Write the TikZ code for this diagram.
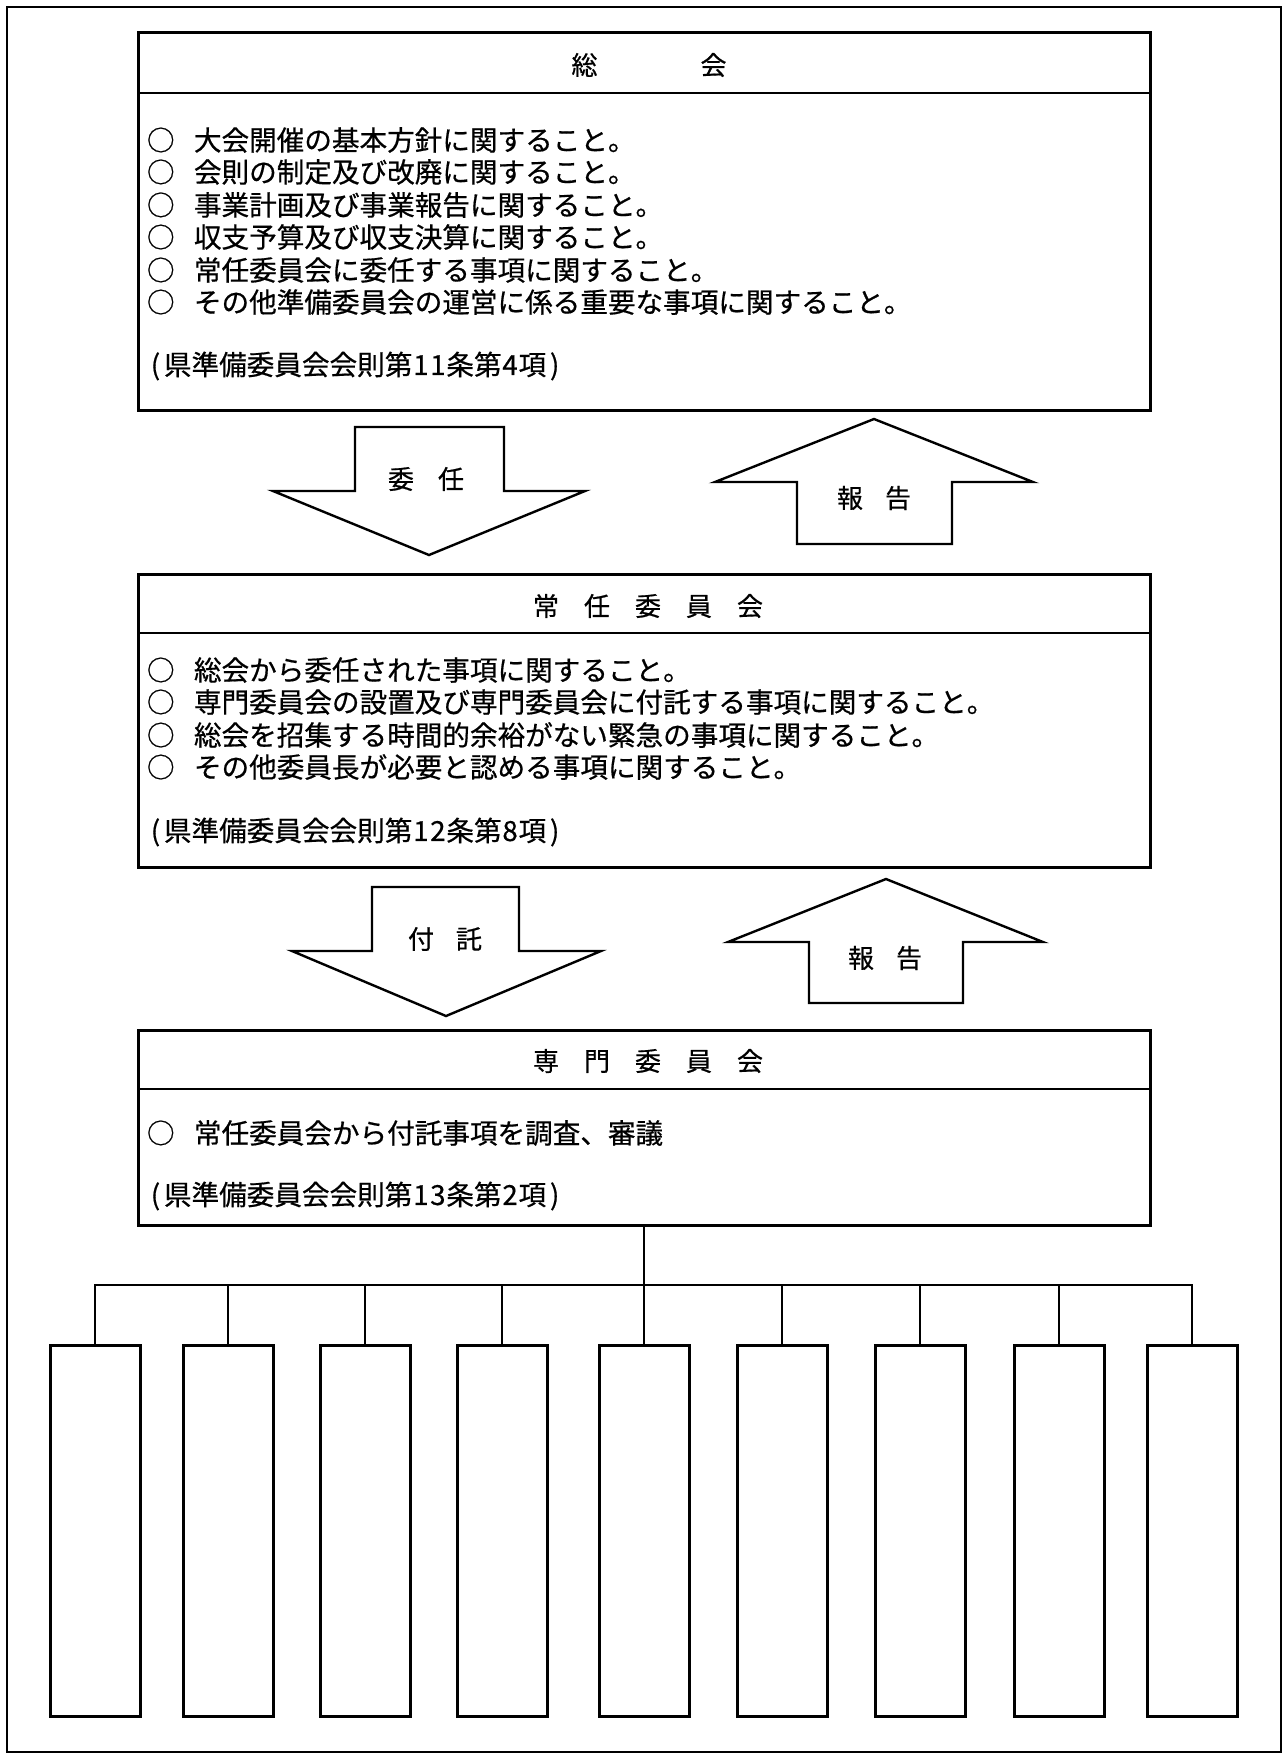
\documentclass[tikz,border=0pt]{standalone}
\usepackage{fontspec}
\setmainfont{Noto Sans CJK JP}[FakeBold=0.6]
\newcommand\hw[1]{\makebox[8.5pt][c]{#1}}
\newcommand\bul{\makebox[23.5pt][l]{○}}
\begin{document}
\begin{tikzpicture}[x=0.5pt,y=-0.5pt,
  every node/.style={inner sep=0pt, outer sep=0pt},
  bigbox/.style={draw, line width=1.5pt, minimum width=506pt, anchor=north west},
  divider/.style={line width=1.3pt},
  txt/.style={anchor=west, font=\fontsize{13.8pt}{16pt}\selectfont},
  ttl/.style={font=\fontsize{13pt}{16pt}\selectfont},
  blockarrow/.style={draw, line width=1.2pt, line join=miter},
  lbl/.style={font=\fontsize{13pt}{16pt}\selectfont},
  child/.style={draw, line width=1.5pt, minimum width=45pt, minimum height=185.5pt, anchor=north},
  link/.style={line width=1pt}]

\path[use as bounding box] (0,0) rectangle (1287,1758);
\draw[line width=1.4pt] (7,7) rectangle (1281,1752);

% ---- box 1
\node[bigbox, minimum height=189pt] (b1) at (138,32) {};
\draw[divider] (b1.north west) ++(0,61) -- ++(1012,0);
\node[ttl] (t1) at (649,65) {総\hspace{51.5pt}会};
\node[txt] (l11) at (147,140) {\bul 大会開催の基本方針に関すること。};
\node[txt] (l12) at (147,172) {\bul 会則の制定及び改廃に関すること。};
\node[txt] (l13) at (147,205) {\bul 事業計画及び事業報告に関すること。};
\node[txt] (l14) at (147,237) {\bul 収支予算及び収支決算に関すること。};
\node[txt] (l15) at (147,270) {\bul 常任委員会に委任する事項に関すること。};
\node[txt] (l16) at (147,302) {\bul その他準備委員会の運営に係る重要な事項に関すること。};
\node[txt] (c1) at (147,366) {\hw{(}県準備委員会会則第\hw{1}\hw{1}条第\hw{4}項\hw{)}};

% ---- arrows between 1 and 2
\draw[blockarrow] (355,427) -- (504,427) -- (504,491) -- (585,491) -- (429,555) -- (273,491) -- (355,491) -- cycle;
\node[lbl] (a1) at (426,479) {委\hspace{12pt}任};
\draw[blockarrow] (874,419) -- (1033,482) -- (952,482) -- (952,544) -- (797,544) -- (797,482) -- (715,482) -- cycle;
\node[lbl] (a2) at (874,498) {報\hspace{11pt}告};

% ---- box 2
\node[bigbox, minimum height=146.5pt] (b2) at (138,574) {};
\draw[divider] (b2.north west) ++(0,59) -- ++(1012,0);
\node[ttl] (t2) at (648,606) {常\hspace{12.5pt}任\hspace{12.5pt}委\hspace{12.5pt}員\hspace{12.5pt}会};
\node[txt] (l21) at (147,670) {\bul 総会から委任された事項に関すること。};
\node[txt] (l22) at (147,702) {\bul 専門委員会の設置及び専門委員会に付託する事項に関すること。};
\node[txt] (l23) at (147,735) {\bul 総会を招集する時間的余裕がない緊急の事項に関すること。};
\node[txt] (l24) at (147,767) {\bul その他委員長が必要と認める事項に関すること。};
\node[txt] (c2) at (147,832) {\hw{(}県準備委員会会則第\hw{1}\hw{2}条第\hw{8}項\hw{)}};

% ---- arrows between 2 and 3
\draw[blockarrow] (372,887) -- (519,887) -- (519,951) -- (601,951) -- (446,1016) -- (292,951) -- (372,951) -- cycle;
\node[lbl] (a3) at (445,939) {付\hspace{11pt}託};
\draw[blockarrow] (886,879) -- (1043,942) -- (963,942) -- (963,1003) -- (809,1003) -- (809,942) -- (728,942) -- cycle;
\node[lbl] (a4) at (885,958) {報\hspace{11pt}告};

% ---- box 3
\node[bigbox, minimum height=97.5pt] (b3) at (138,1030) {};
\draw[divider] (b3.north west) ++(0,59) -- ++(1012,0);
\node[ttl] (t3) at (648,1061) {専\hspace{12.5pt}門\hspace{12.5pt}委\hspace{12.5pt}員\hspace{12.5pt}会};
\node[txt] (l31) at (147,1133) {\bul 常任委員会から付託事項を調査、審議};
\node[txt] (c3) at (147,1196) {\hw{(}県準備委員会会則第\hw{1}\hw{3}条第\hw{2}項\hw{)}};

% ---- children
\foreach \i/\x in {1/95,2/228,3/365,4/502,5/644,6/782,7/920,8/1059,9/1192}
  \node[child] (k\i) at (\x,1345) {};
\coordinate (bus) at (644,1285);
\draw[link] (b3.south) -- (k5.north);
\draw[link] (k1.north) -- (k1.north |- bus) -- (k9.north |- bus) -- (k9.north);
\foreach \i in {2,3,4,6,7,8}
  \draw[link] (k\i.north) -- (k\i.north |- bus);
\end{tikzpicture}
\end{document}
